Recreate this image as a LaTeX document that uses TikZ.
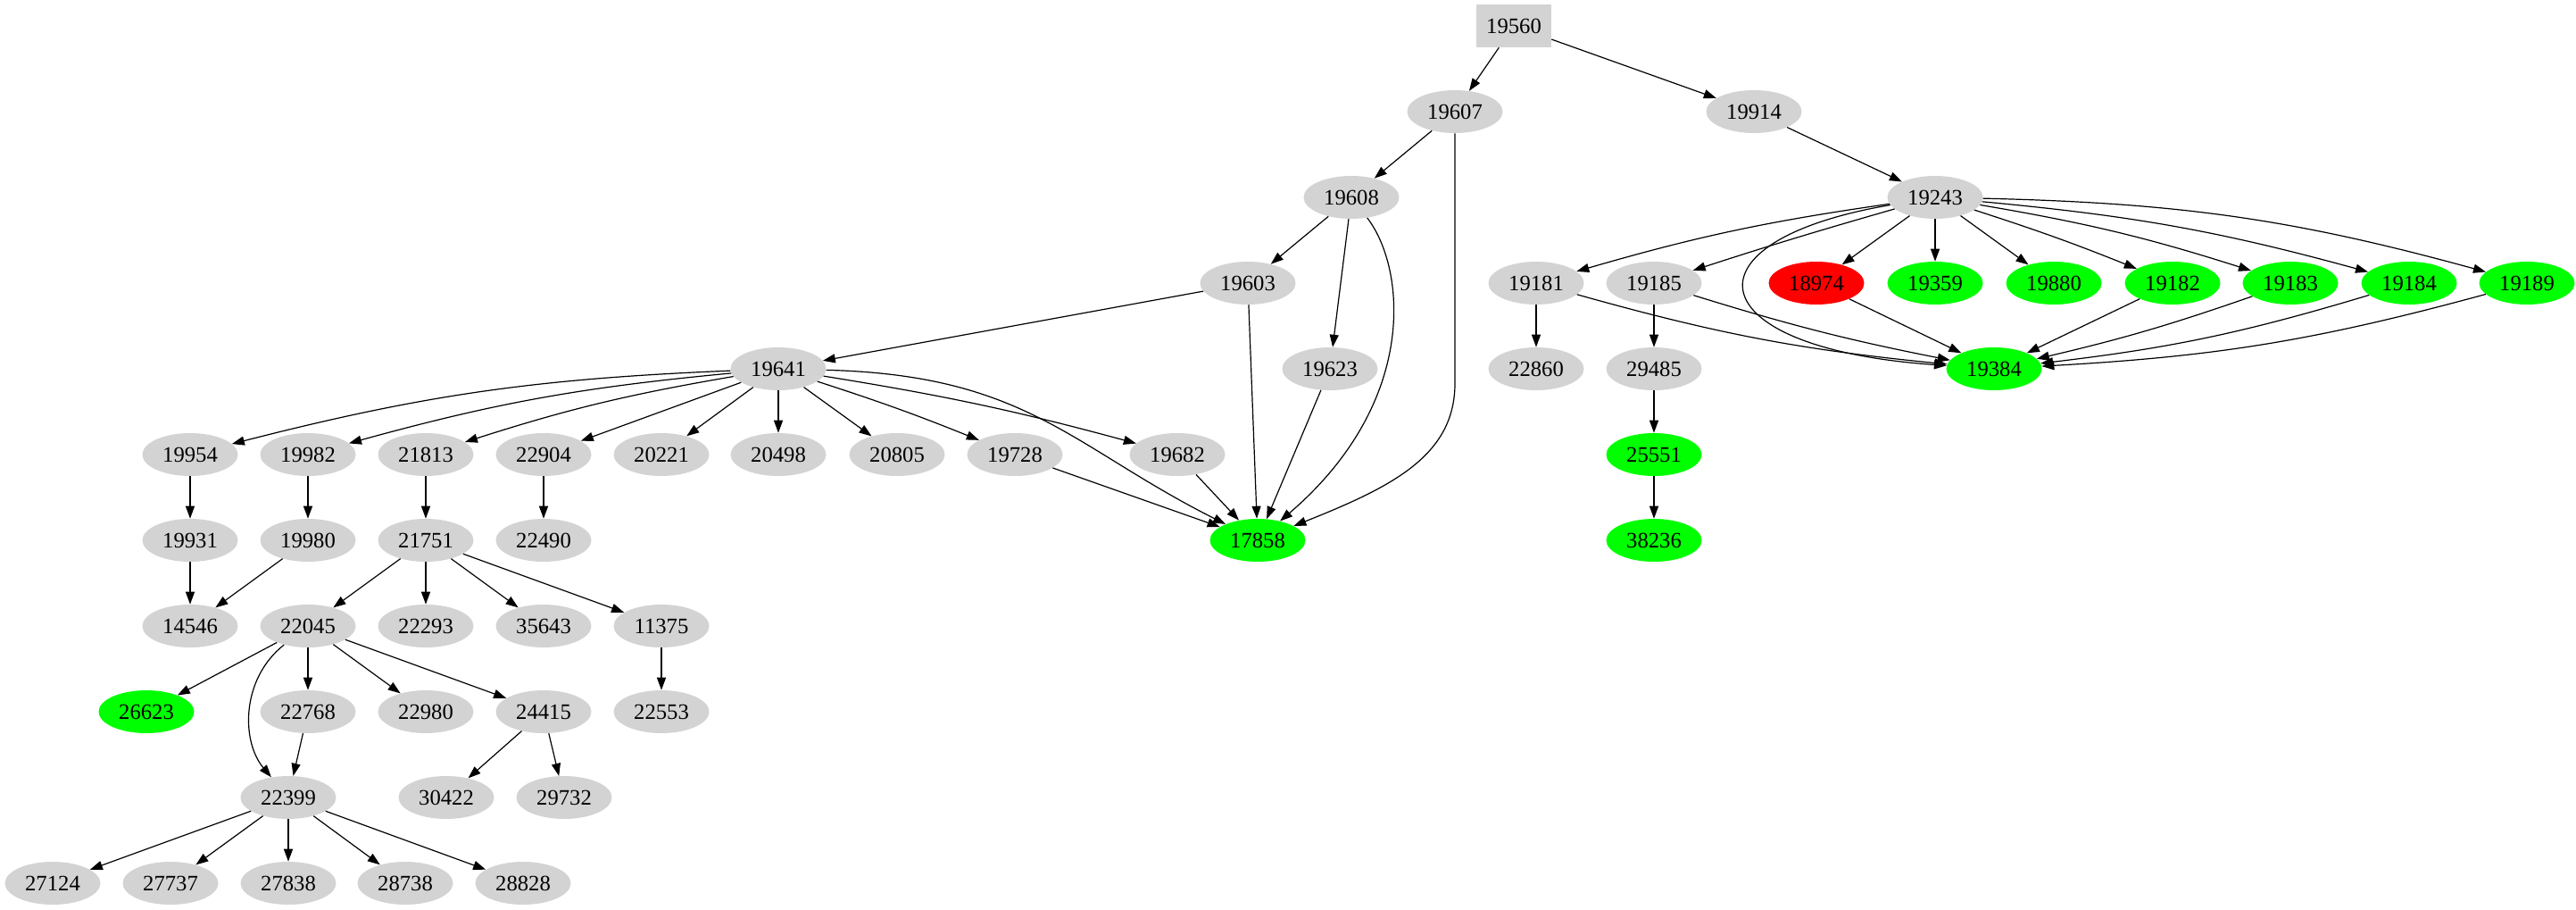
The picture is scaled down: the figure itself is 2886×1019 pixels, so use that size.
\documentclass[tikz,border=0pt]{standalone}
\usepackage{fontspec}
\setmainfont{Liberation Serif}
\usetikzlibrary{arrows.meta, shapes.geometric}
\definecolor{nodegray}{HTML}{D3D3D3}
\definecolor{okgreen}{HTML}{00FF00}
\definecolor{badred}{HTML}{FF0000}
\tikzset{
    gnode/.style = {ellipse, fill=nodegray, minimum width=80.25pt, minimum height=36pt,
        inner sep=0pt, font=\fontsize{18.5}{20}\selectfont},
    rootbox/.style = {rectangle, fill=nodegray, minimum width=63pt, minimum height=36pt,
        inner sep=0pt, font=\fontsize{18.5}{20}\selectfont},
    arr/.style = {-{Triangle[length=10.5pt, width=7.5pt]}, line width=0.9pt}
}
\begin{document}
\begin{tikzpicture}[x=0.75pt, y=0.75pt]
    \useasboundingbox (0,0) rectangle (2886,-1019);
    \node[rootbox] (N19560) at (1696,-29) {19560};
    \foreach \n/\x/\y in {19607/1630/125, 19914/1965/125, 19608/1514/221, 19243/2168/221,
        19603/1398/317, 19181/1721/317, 19185/1853/317,
        19641/872/413, 19623/1490/413, 22860/1721/413, 29485/1853/413,
        19954/213/509, 19982/345/509, 21813/477/509, 22904/609/509, 20221/741/509,
        20498/872/509, 20805/1005/509, 19728/1137/509, 19682/1319/509,
        19931/213/605, 19980/345/605, 21751/477/605, 22490/609/605,
        14546/213/701, 22045/345/701, 22293/477/701, 35643/609/701, 11375/741/701,
        22768/345/797, 22980/477/797, 24415/609/797, 22553/741/797,
        22399/323/893, 30422/500/893, 29732/632/893,
        27124/59/989, 27737/191/989, 27838/323/989, 28738/454/989, 28828/586/989}
        \node[gnode] (N\n) at (\x,-\y) {\n};
    \foreach \n/\x/\y in {19359/2168/317, 19880/2301/317, 19182/2434/317, 19183/2566/317,
        19184/2699/317, 19189/2831/317, 19384/2234/413, 25551/1853/509,
        17858/1409/605, 38236/1853/605, 26623/164/797}
        \node[gnode, fill=okgreen] (N\n) at (\x,-\y) {\n};
    \node[gnode, fill=badred] (N18974) at (2035,-317) {18974};

    \draw[arr] (N19560) -- (N19607);
    \draw[arr] (N19560) -- (N19914);
    \draw[arr] (N19607) -- (N19608);
    \draw[arr] (N19607.south) -- ++(0,-280) .. controls (1630,-510) and (1560,-545) .. (N17858);
    \draw[arr] (N19608) -- (N19603);
    \draw[arr] (N19608) -- (N19623);
    \draw[arr] (N19608) .. controls (1575,-300) and (1590,-450) .. (N17858);
    \draw[arr] (N19603) -- (N19641);
    \draw[arr] (N19603) -- (N17858);
    \draw[arr] (N19623) -- (N17858);
    \draw[arr] (N19641) .. controls (1150,-420) and (1200,-500) .. (N17858);
    \foreach \t/\b in {19954/6, 19982/5, 21813/4, 22904/0, 20221/0, 20498/0, 20805/0, 19728/-2, 19682/-3}
        \draw[arr] (N19641) to[bend right=\b] (N\t);
    \draw[arr] (N19728) -- (N17858);
    \draw[arr] (N19682) -- (N17858);
    \draw[arr] (N19954) -- (N19931);
    \draw[arr] (N19931) -- (N14546);
    \draw[arr] (N19982) -- (N19980);
    \draw[arr] (N19980) -- (N14546);
    \draw[arr] (N21813) -- (N21751);
    \draw[arr] (N22904) -- (N22490);
    \foreach \t in {22045, 22293, 35643, 11375}
        \draw[arr] (N21751) -- (N\t);
    \draw[arr] (N11375) -- (N22553);
    \foreach \t in {26623, 22768, 22980, 24415}
        \draw[arr] (N22045) -- (N\t);
    \draw[arr] (N22045) .. controls (270,-760) and (270,-830) .. (N22399);
    \draw[arr] (N22768) -- (N22399);
    \draw[arr] (N24415) -- (N30422);
    \draw[arr] (N24415) -- (N29732);
    \foreach \t in {27124, 27737, 27838, 28738, 28828}
        \draw[arr] (N22399) -- (N\t);

    \draw[arr] (N19914) -- (N19243);
    \foreach \t/\b in {19181/4, 19185/1, 18974/0, 19359/0, 19880/0, 19182/-2, 19183/-4, 19184/-5, 19189/-7}
        \draw[arr] (N19243) to[bend right=\b] (N\t);
    \draw[arr] (N19243) .. controls (1880,-270) and (1900,-390) .. (N19384);
    \draw[arr] (N19181) -- (N22860);
    \draw[arr] (N19185) -- (N29485);
    \draw[arr] (N29485) -- (N25551);
    \draw[arr] (N25551) -- (N38236);
    \foreach \t/\b in {19181/5, 19185/3, 18974/0, 19182/0, 19183/-3, 19184/-5, 19189/-6}
        \draw[arr] (N\t) to[bend right=\b] (N19384);
\end{tikzpicture}
\end{document}
